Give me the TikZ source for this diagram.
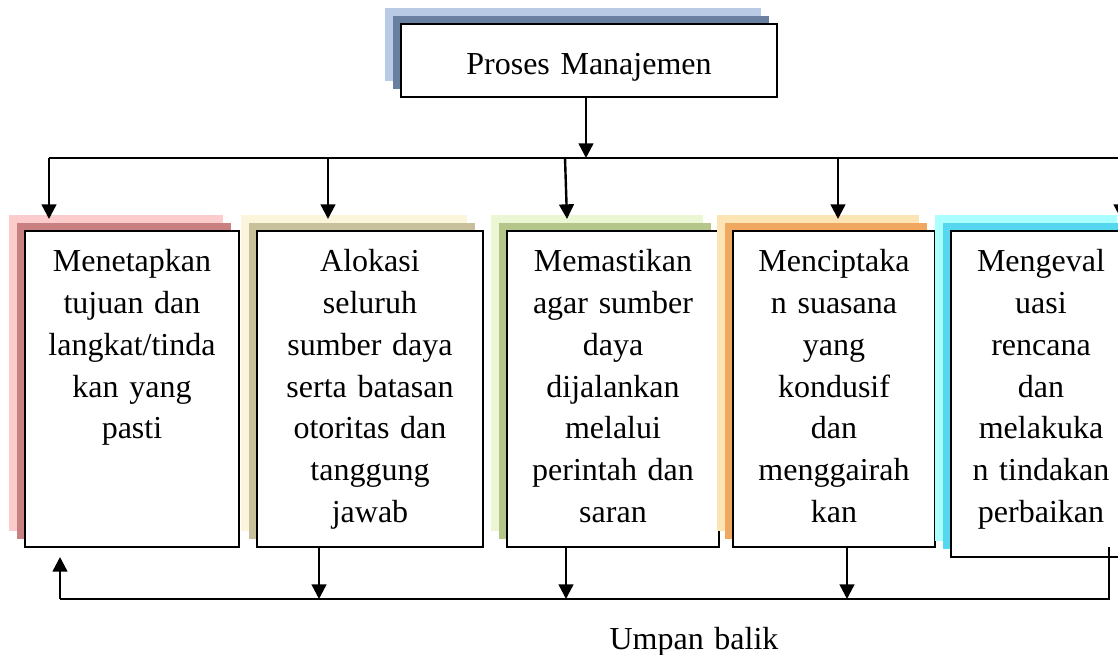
\documentclass[tikz,border=0pt]{standalone}
\usepackage{fontspec}
\setmainfont{Liberation Serif}
\usetikzlibrary{arrows.meta}
\definecolor{topL}{RGB}{185,202,228}
\definecolor{topD}{RGB}{106,128,160}
\definecolor{aL}{RGB}{252,204,204}
\definecolor{aD}{RGB}{200,128,128}
\definecolor{bL}{RGB}{251,245,220}
\definecolor{bD}{RGB}{200,192,154}
\definecolor{cL}{RGB}{234,246,212}
\definecolor{cD}{RGB}{180,198,138}
\definecolor{dL}{RGB}{253,228,180}
\definecolor{dD}{RGB}{240,168,96}
\definecolor{eL}{RGB}{170,255,255}
\definecolor{eD}{RGB}{85,215,240}
\tikzset{
  wbox/.style={draw, line width=1.4pt, fill=white, rectangle, inner sep=0pt, outer sep=0pt},
  txt/.style={font=\fontsize{24}{31.3}\selectfont, align=center, text width=170pt, anchor=base, inner sep=0pt},
  line/.style={line width=1.8pt},
  arr/.style={line width=1.8pt, -{Triangle[length=11pt,width=11pt]}}
}
\newcommand{\shbox}[7]{%
  \fill[#6] ({#2-16},{#3-16}) rectangle ({#4-16},{#5-16});
  \fill[#7] ({#2-8},{#3-8}) rectangle ({#4-8},{#5-8});
  \node[wbox, minimum width={(#4-#2)*0.75pt}, minimum height={(#5-#3)*0.75pt}] (#1) at ({(#2+#4)/2},{(#3+#5)/2}) {};}
\begin{document}
\begin{tikzpicture}[x=0.75pt,y=-0.75pt]
\path[use as bounding box] (0,0) rectangle (1118,655);
\clip (0,0) rectangle (1118,655);
% boxes
\shbox{top}{401}{24}{777}{97}{topL}{topD}
\node[txt, text width=300pt] (toptxt) at (589,75) {Proses Manajemen};
\shbox{b1}{25}{231}{239}{547}{aL}{aD}
\shbox{b2}{257}{231}{483}{547}{bL}{bD}
\shbox{b3}{507}{231}{719}{547}{cL}{cD}
\shbox{b4}{733}{231}{935}{547}{dL}{dD}
\shbox{b5}{951}{231}{1133}{557}{eL}{eD}
\node[txt] (t1) at (132,272) {Menetapkan\\tujuan dan\\langkat/tinda\\kan yang\\pasti};
\node[txt] (t2) at (370,272) {Alokasi\\seluruh\\sumber daya\\serta batasan\\otoritas dan\\tanggung\\jawab};
\node[txt] (t3) at (613,272) {Memastikan\\agar sumber\\daya\\dijalankan\\melalui\\perintah dan\\saran};
\node[txt] (t4) at (834,272) {Menciptaka\\n suasana\\yang\\kondusif\\dan\\menggairah\\kan};
\node[txt] (t5) at (1041,272) {Mengeval\\uasi\\rencana\\dan\\melakuka\\n tindakan\\perbaikan};
% top bus
\coordinate (hM) at (586,158);
\coordinate (h1) at (49,158);
\coordinate (h2) at (328,158);
\coordinate (h3) at (565,158);
\coordinate (h4) at (838,158);
\coordinate (h5) at (1121,158);
\coordinate (e1) at (49,219);
\coordinate (e2) at (328,219);
\coordinate (e3) at (567,219);
\coordinate (e4) at (838,219);
\coordinate (e5) at (1121,219);
\draw[arr] (top.south -| hM) -- (hM);
\draw[line] (h1) -- (1125,158);
\draw[arr] (h1) -- (e1);
\draw[arr] (h2) -- (e2);
\draw[arr] (h3) -- (e3);
\draw[arr] (h4) -- (e4);
\draw[arr] (h5) -- (e5);
% feedback
\coordinate (f1) at (60,599);
\coordinate (u1) at (60,557);
\coordinate (f2) at (319,599);
\coordinate (f3) at (566,599);
\coordinate (f4) at (847,599);
\coordinate (f5) at (1109,599);
\coordinate (g5) at (1109,547);
\draw[arr] (b2.south -| f2) -- (f2);
\draw[arr] (b3.south -| f3) -- (f3);
\draw[arr] (b4.south -| f4) -- (f4);
\draw[line] (g5) -- (f5) -- (f1);
\draw[arr] (f1) -- (u1);
\node[txt, text width=200pt] (fb) at (694,650) {Umpan balik};
\end{tikzpicture}
\end{document}
